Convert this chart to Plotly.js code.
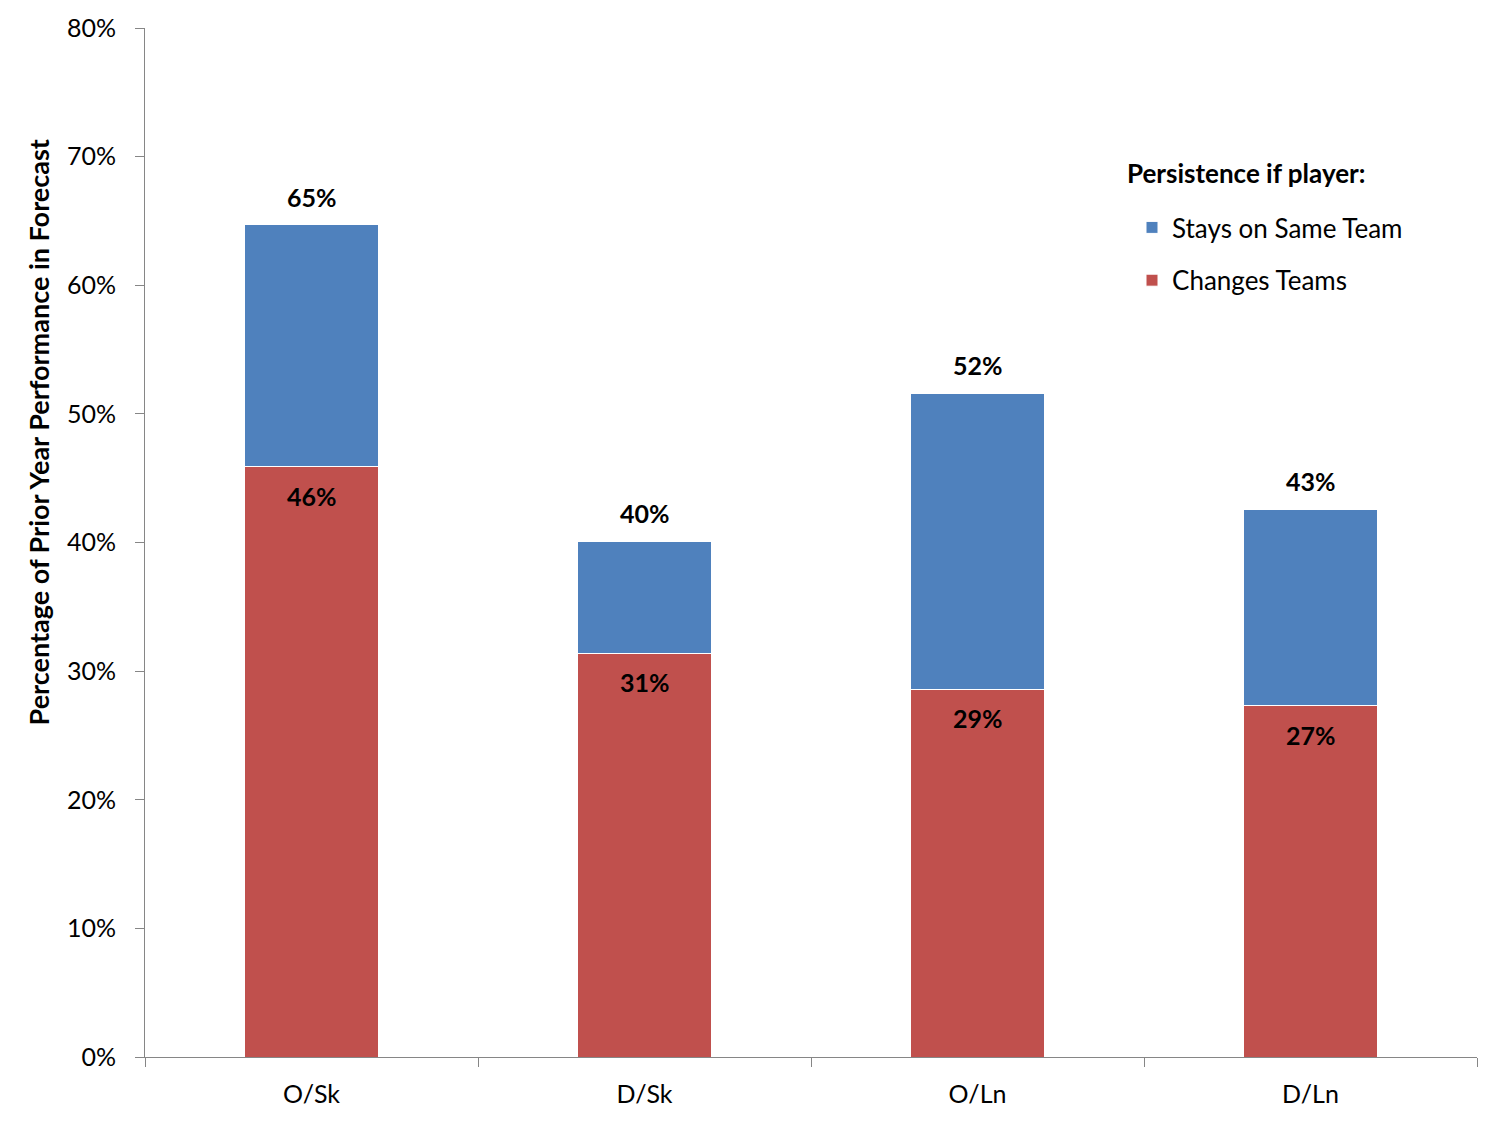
<!DOCTYPE html>
<html>
<head>
<meta charset="utf-8">
<script src="https://cdn.plot.ly/plotly-3.0.1.min.js"></script>
<style>html,body{margin:0;padding:0;background:#fff;}#chart{width:1500px;height:1125px;}</style>
</head>
<body>
<div id="chart"></div>
<script>
const categories = ["O/Sk", "D/Sk", "O/Ln", "D/Ln"];
const changesTeams = [0.459, 0.314, 0.286, 0.273];
const staysExtra = [0.188, 0.087, 0.230, 0.153];
const totalLabels = ["65%", "40%", "52%", "43%"];
const changesLabels = ["46%", "31%", "29%", "27%"];
const yTickVals = [0, 0.1, 0.2, 0.3, 0.4, 0.5, 0.6, 0.7, 0.8];

const FONT = "Lato, 'Open Sans', sans-serif";
const RED = "#C0504D", BLUE = "#4F81BD";

const traces = [
  {type: "bar", name: "Changes Teams", x: categories, y: changesTeams,
   marker: {color: RED, line: {color: "#fff", width: 1}}, width: 0.4,
   legendgroup: "g1", legendrank: 2, hoverinfo: "skip"},
  {type: "bar", name: "Stays on Same Team", x: categories, y: staysExtra,
   marker: {color: BLUE, line: {color: "#fff", width: 1}}, width: 0.4,
   legendgroup: "g2", legendrank: 1, hoverinfo: "skip"}
];

const annotations = [];
categories.forEach((c, i) => {
  annotations.push({x: c, y: changesTeams[i], xref: "x", yref: "y", text: "<b>" + changesLabels[i] + "</b>",
    showarrow: false, yanchor: "top", yshift: -12, font: {family: FONT, size: 25, color: "#000"}});
  annotations.push({x: c, y: changesTeams[i] + staysExtra[i], xref: "x", yref: "y", text: "<b>" + totalLabels[i] + "</b>",
    showarrow: false, yanchor: "bottom", yshift: 11, font: {family: FONT, size: 25, color: "#000"}});
});
annotations.push({xref: "paper", yref: "paper", x: -0.0803, y: 0.607, xanchor: "center", yanchor: "middle",
  text: "<b>Percentage of Prior Year Performance in Forecast</b>", textangle: -90, showarrow: false,
  font: {family: FONT, size: 27, color: "#000"}});
annotations.push({xref: "paper", yref: "paper", x: (1125 - 145) / 1332, y: (1057 - 173) / 1029, xanchor: "left", yanchor: "middle",
  text: "<b>Persistence if player:</b>", showarrow: false, font: {family: FONT, size: 26, color: "#000"}});

const layout = {
  width: 1500, height: 1125,
  margin: {l: 145, r: 23, t: 28, b: 68, pad: 0},
  paper_bgcolor: "#fff", plot_bgcolor: "#fff",
  barmode: "stack",
  font: {family: FONT, size: 25, color: "#000"},
  xaxis: {type: "category", tickson: "boundaries", ticks: "outside", ticklen: 9, tickcolor: "#868686",
    showline: true, linecolor: "#868686", linewidth: 1, showgrid: false, zeroline: false,
    tickfont: {family: FONT, size: 25, color: "#000"}, ticklabelstandoff: 15},
  yaxis: {range: [0, 0.8], tickvals: yTickVals, tickformat: ".0%", ticks: "outside", ticklen: 9, tickcolor: "#868686",
    showline: true, linecolor: "#868686", linewidth: 1, showgrid: false, zeroline: false,
    tickfont: {family: FONT, size: 25, color: "#000"}, ticklabelstandoff: 14},
  showlegend: true,
  legend: {x: 0.741, y: (1057 - 204) / 1029, xanchor: "left", yanchor: "top", traceorder: "grouped", tracegroupgap: 16,
    font: {family: FONT, size: 26, color: "#000"}, bgcolor: "rgba(0,0,0,0)", itemwidth: 30},
  annotations: annotations
};

Plotly.newPlot("chart", traces, layout, {displayModeBar: false, staticPlot: true});
</script>
</body>
</html>
